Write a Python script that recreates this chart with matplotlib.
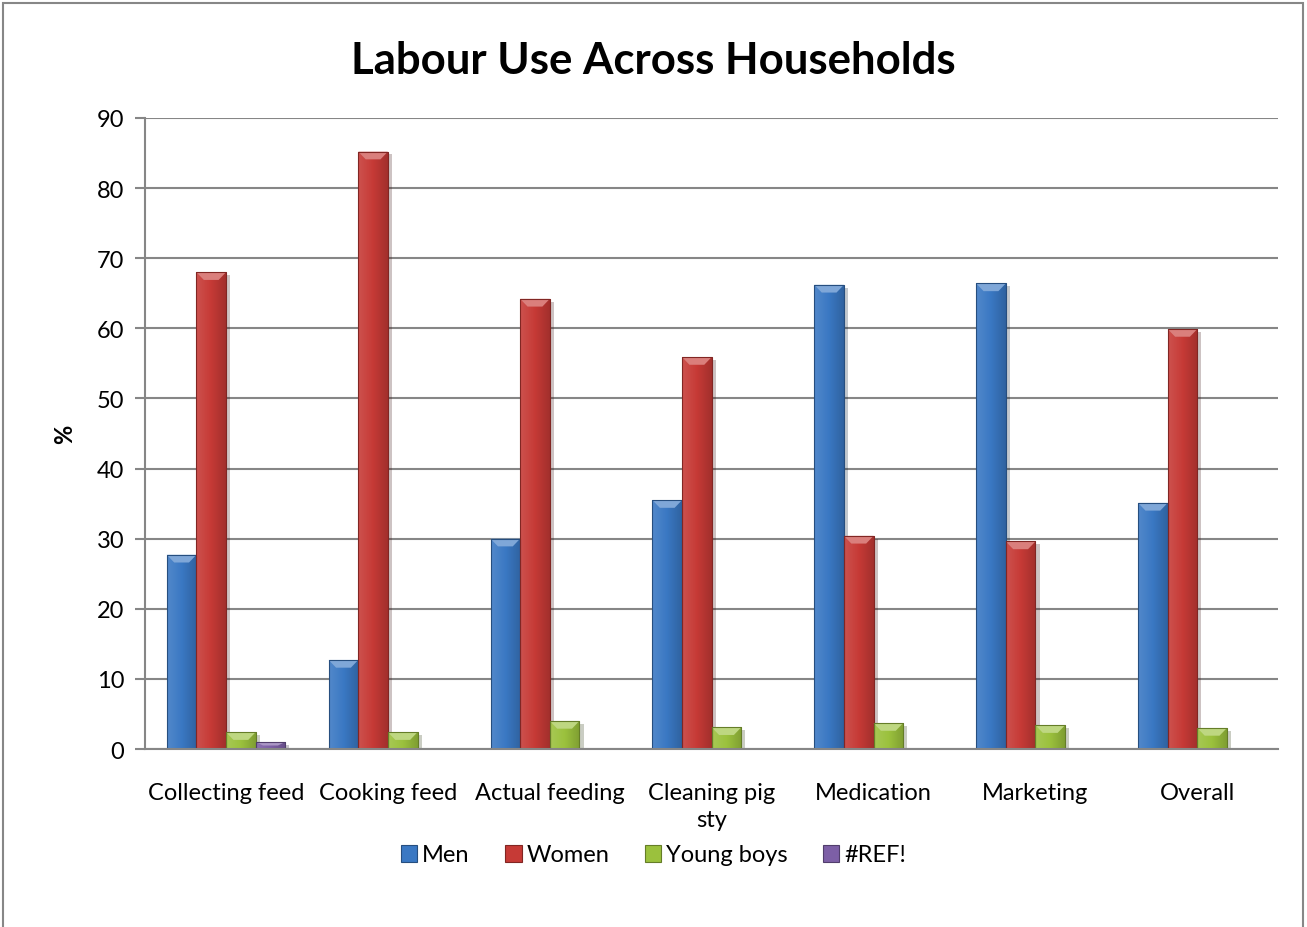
import numpy as np
import matplotlib.pyplot as plt
import matplotlib.patheffects as pe
from matplotlib.colors import LinearSegmentedColormap, to_rgb
from matplotlib.patches import Rectangle

plt.rcParams['font.family'] = ['Lato', 'DejaVu Sans']

categories = ['Collecting feed', 'Cooking feed', 'Actual feeding', 'Cleaning pig\nsty',
              'Medication', 'Marketing', 'Overall']
men = [27.7, 12.7, 30.0, 35.5, 66.2, 66.4, 35.1]
women = [68.0, 85.2, 64.2, 55.9, 30.4, 29.6, 59.9]
young_boys = [2.4, 2.4, 4.0, 3.1, 3.7, 3.4, 3.0]
ref_err = [1.0, 0, 0, 0, 0, 0, 0]

series = [('Men', men, '#3a78c3'),
          ('Women', women, '#c63a36'),
          ('Young boys', young_boys, '#9bc13d'),
          ('#REF!', ref_err, '#7d5fa6')]


def mix(c, other, t):
    c, other = np.array(to_rgb(c)), np.array(to_rgb(other))
    return tuple(c * (1 - t) + other * t)


def shade_bar(ax, rect, base):
    """Horizontal gradient plus a light bevel on top of one bar."""
    x, w, h = rect.get_x(), rect.get_width(), rect.get_height()
    if h <= 0:
        return
    cmap = LinearSegmentedColormap.from_list(
        'bar', [mix(base, 'white', 0.12), base, mix(base, 'black', 0.18)])
    img = ax.imshow(np.linspace(0, 1, 64)[None, :], extent=[x, x + w, 0, h],
                    cmap=cmap, aspect='auto', zorder=3, interpolation='bicubic')
    img.set_clip_path(rect)
    d = min(1.1, h / 2)
    ax.fill([x, x + w, x + w - w * 0.25, x + w * 0.25], [h, h, h - d, h - d],
            color=mix(base, 'white', 0.35), zorder=3.2, lw=0)
    ax.plot([x, x + w, x + w, x, x], [0, 0, h, h, 0], color=mix(base, 'black', 0.35),
            lw=0.8, zorder=3.3)


fig = plt.figure(figsize=(13.07, 9.28), dpi=100)
ax = fig.add_axes([0.111, 0.1918, 0.867, 0.68])

xs = np.arange(len(categories))
bw = 0.183
for i, (name, vals, col) in enumerate(series):
    offs = (i - 1.5) * bw
    bars = ax.bar(xs + offs, vals, bw, color=col, label=name, zorder=2,
                  path_effects=[pe.SimplePatchShadow(offset=(3, -2), alpha=0.25),
                                pe.Normal()])
    for r in bars:
        shade_bar(ax, r, col)

ax.set_xlim(-0.5, len(categories) - 0.5)
ax.set_ylim(0, 90)
ax.set_yticks(range(0, 91, 10))
ax.set_xticks(xs)
ax.set_xticklabels(categories, fontsize=17, linespacing=1.35)
ax.tick_params(axis='y', labelsize=17, length=7, width=1.5, color='#868686', pad=8)
ax.tick_params(axis='x', length=0, pad=24)
ax.yaxis.grid(True, color='#868686', lw=1.5, zorder=0)
ax.set_axisbelow(True)
for s in ['top', 'right']:
    ax.spines[s].set_visible(False)
for s in ['left', 'bottom']:
    ax.spines[s].set_color('#868686')
    ax.spines[s].set_linewidth(1.5)
ax.spines['bottom'].set_zorder(4)

ax.set_ylabel('%', fontsize=17, fontweight='bold', labelpad=15)
fig.suptitle('Labour Use Across Households', fontsize=31.5, fontweight='bold', y=0.956)

handles = [Rectangle((0, 0), 1, 1, facecolor=c, edgecolor=mix(c, 'black', 0.35), lw=0.8)
           for _, _, c in series]
fig.legend(handles, [s[0] for s in series], loc='center', bbox_to_anchor=(0.5, 1 - 856 / 928),
           ncol=4, frameon=False, fontsize=17, handlelength=0.7, handleheight=0.7,
           handletextpad=0.2, columnspacing=1.5)

fig.patches.append(Rectangle((0.002, -0.01), 0.995, 1.006, transform=fig.transFigure,
                             fill=False, edgecolor='#878787', lw=1.5))

fig.savefig('out.png', dpi=100)
